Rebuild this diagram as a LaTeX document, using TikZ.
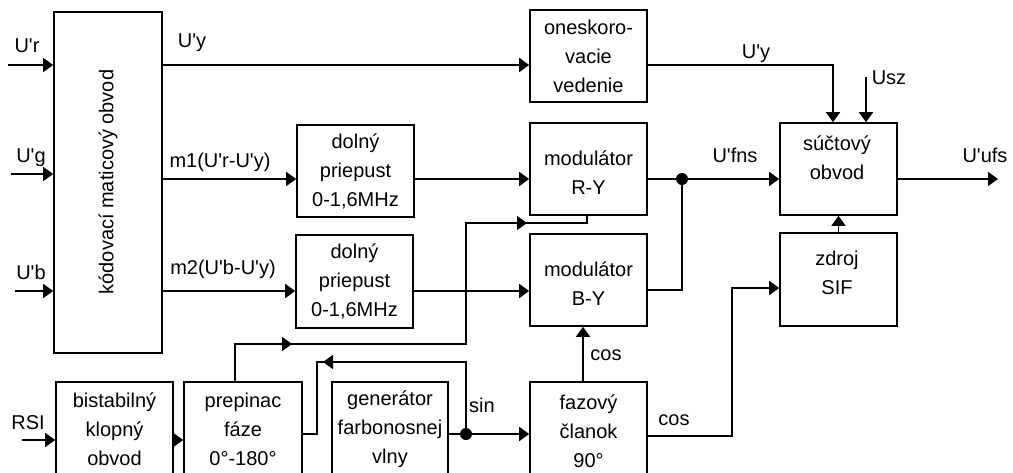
\documentclass[tikz,border=0pt]{standalone}
\usepackage{fontspec}
\setmainfont{Liberation Sans}[Ligatures=TeXOff]
\usetikzlibrary{arrows.meta,calc}
\begin{document}
\begin{tikzpicture}[x=1pt,y=-1pt,
  every node/.style={font=\fontsize{20}{29}\selectfont, inner sep=0pt},
  blk/.style={draw, line width=1.6pt, align=center, inner sep=0pt},
  ln/.style={line width=1.6pt},
  arr/.style={line width=1.6pt, -{Triangle[length=10pt,width=14pt]}},
  lbl/.style={anchor=base},
  dot/.style={circle, fill=black, minimum size=12pt, inner sep=0pt}
]
\useasboundingbox (0,0) rectangle (1013,472);
% boxes
\node[blk, minimum width=108pt, minimum height=341pt] (kod) at (108,182.5) {};
\node[rotate=90] (kodT) at (108,182) {kódovací maticový obvod};
\node[blk, minimum width=117pt, minimum height=92pt] (onesk) at (588.5,56) {oneskoro-\\vacie\\vedenie};
\node[blk, minimum width=117pt, minimum height=92pt] (dp1) at (355.5,171) {dolný\\priepust\\0-1,6MHz};
\node[blk, minimum width=117pt, minimum height=93pt] (dp2) at (354.5,281.5) {dolný\\priepust\\0-1,6MHz};
\node[blk, minimum width=117pt, minimum height=92pt] (RY) at (588.5,169) {};
\node[align=center] (RYT) at (588.5,173) {modulátor\\R-Y};
\node[blk, minimum width=117pt, minimum height=92pt] (BY) at (588.5,280) {};
\node[align=center] (BYT) at (588.5,284) {modulátor\\B-Y};
\node[blk, minimum width=117pt, minimum height=92pt] (sum) at (838.5,169) {};
\node[align=center] (sumT) at (837,158) {súčtový\\obvod};
\node[blk, minimum width=117pt, minimum height=93pt] (sif) at (838.5,279.5) {};
\node[align=center] (sifT) at (837,273) {zdroj\\SIF};
\node[blk, minimum width=117pt, minimum height=100pt] (bist) at (114.5,432) {};
\node[align=center] (bistT) at (114.5,429) {bistabilný\\klopný\\obvod};
\node[blk, minimum width=118pt, minimum height=100pt] (prep) at (243,432) {};
\node[align=center] (prepT) at (243,429) {prepinac\\fáze\\0°-180°};
\node[blk, minimum width=116pt, minimum height=100pt] (gen) at (390,432) {};
\node[align=center] (genT) at (390,429) {generátor\\farbonosnej\\vlny};
\node[blk, minimum width=117pt, minimum height=100pt] (faz) at (588.5,432) {};
\node[align=center] (fazT) at (588.5,431) {fazový\\članok\\90°};
% coordinates
\coordinate (ur) at (8,65);
\coordinate (ug) at (11,174);
\coordinate (ub) at (15,291);
\coordinate (rsi) at (22,440);
\coordinate (yr) at (833,65);
\coordinate (usz) at (866,77);
\coordinate (out) at (998,179);
\coordinate (jf) at (682,179);
\coordinate (jb) at (682,290);
\coordinate (sl) at (732,436);
\coordinate (su) at (732,288);
\coordinate (pa) at (235,344);
\coordinate (pb) at (466,344);
\coordinate (pc) at (466,223);
\coordinate (pd) at (587,223);
\coordinate (ds) at (466,434);
\coordinate (sa) at (466,362);
\coordinate (sb) at (317,362);
\coordinate (sc) at (317,434);
% inputs
\draw[arr] (ur) -- (ur -| kod.west);
\draw[arr] (ug) -- (ug -| kod.west);
\draw[arr] (ub) -- (ub -| kod.west);
\draw[arr] (rsi) -- (rsi -| bist.west);
\draw[arr] (bist.east |- rsi) -- (prep.west |- rsi);
% U'y
\draw[arr] (kod.east |- ur) -- (onesk.west |- ur);
\draw[arr] (onesk.east |- ur) -- (yr) -- (yr |- sum.north);
\draw[arr] (usz) -- (usz |- sum.north);
% m1, m2
\draw[arr] (kod.east |- jf) -- (dp1.west |- jf);
\draw[arr] (dp1.east |- jf) -- (RY.west |- jf);
\draw[arr] (kod.east |- ub) -- (dp2.west |- ub);
\draw[arr] (dp2.east |- ub) -- (BY.west |- ub);
% U'fns
\draw[arr] (RY.east |- jf) -- (sum.west |- jf);
\draw[ln] (jf) -- (jb) -- (BY.east |- jb);
\node[dot] (d1) at (jf) {};
% output
\draw[arr] (sum.east |- out) -- (out);
\draw[arr] (sif.north) -- (sum.south);
% cos paths
\draw[arr] (faz.north -| 583,0) -- (BY.south -| 583,0);
\draw[arr] (faz.east |- sl) -- (sl) -- (su) -- (sif.west |- su);
% prepinac path
\draw[ln] (prep.north -| pa) -- (pa) -- (pb) -- (pc) -- (pd) -- (RY.south -| pd);
\draw[arr] ($(pa)+(40,0)$) -- ($(pa)+(57,0)$);
\draw[arr] ($(pc)+(40,0)$) -- ($(pc)+(61,0)$);
% sin path
\draw[arr] (gen.east |- ds) -- (faz.west |- ds);
\draw[ln] (ds) -- (sa) -- (sb) -- (sc) -- (prep.east |- sc);
\draw[arr] ($(sb)+(25,0)$) -- ($(sb)+(6,0)$);
\node[dot] (d2) at (ds) {};
% labels
\node[lbl] (lur) at (27,52) {U'r};
\node[lbl] (lug) at (31,162) {U'g};
\node[lbl] (lub) at (31,279) {U'b};
\node[lbl] (lrsi) at (28,429) {RSI};
\node[lbl] (luy) at (192,47) {U'y};
\node[lbl] (lm1) at (220,167) {m1(U'r-U'y)};
\node[lbl] (lm2) at (223,274) {m2(U'b-U'y)};
\node[lbl] (luy2) at (756,58) {U'y};
\node[lbl] (lusz) at (889,84) {Usz};
\node[lbl] (lfns) at (735,162) {U'fns};
\node[lbl] (lufs) at (985,162) {U'ufs};
\node[lbl] (lsin) at (482,412) {sin};
\node[lbl] (lcos1) at (606,360) {cos};
\node[lbl] (lcos2) at (674,425) {cos};
\end{tikzpicture}
\end{document}
